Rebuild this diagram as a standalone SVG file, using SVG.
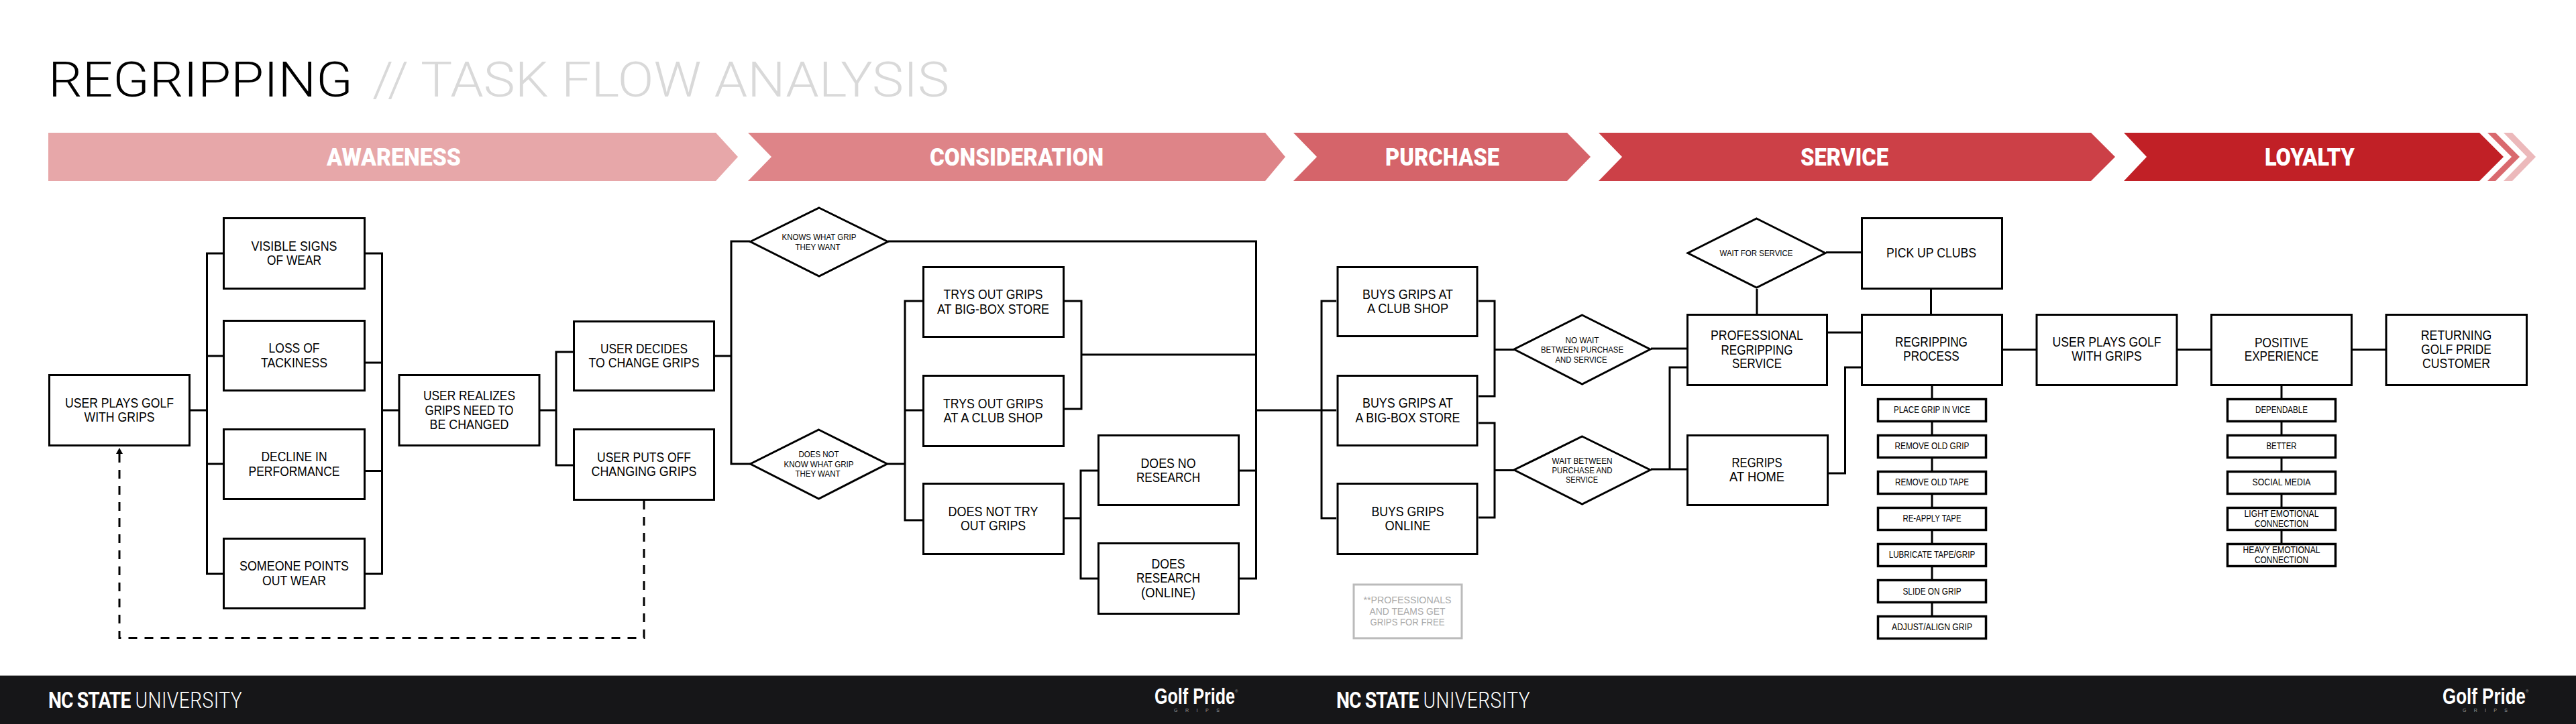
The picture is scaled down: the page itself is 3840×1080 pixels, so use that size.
<svg xmlns="http://www.w3.org/2000/svg" width="3840" height="1080" viewBox="0 0 3840 1080">
<style>
text{font-family:"Liberation Sans",Arial,sans-serif;text-anchor:middle;fill:#000}
.b{font-size:20.5px}
.s{font-size:13.5px}
.m{font-size:14px}
.n{font-size:14.5px;fill:#aaa}
.box rect{fill:#fff;stroke:#000;stroke-width:3}
.box.st rect{stroke-width:3.5}
.box polygon{fill:#fff;stroke:#000;stroke-width:3;stroke-linejoin:miter}
.stage text{font-family:Roboto,"Liberation Sans",sans-serif;font-weight:900;font-size:37.5px;fill:#fff}
.title{font-family:Roboto,"Liberation Sans",sans-serif;font-weight:300;font-size:73px;text-anchor:start}
.foot{font-family:Roboto,"Liberation Sans",sans-serif;font-size:33px;fill:#fff;text-anchor:start}
.foot .hv{font-weight:700;letter-spacing:-1px}
.foot .lt{font-weight:300;letter-spacing:.5px}
.gp{font-weight:700;font-size:33px;fill:#fff;text-anchor:start}
.gs{font-size:7px;fill:#999;text-anchor:start}
.gr{font-size:6px;fill:#aaa;text-anchor:start}
#connectors path{fill:none;stroke:#000;stroke-width:3}
#connectors path.dash{stroke-dasharray:13 11}
</style>
<defs><marker id="arrow" markerUnits="userSpaceOnUse" markerWidth="14" markerHeight="10" refX="1" refY="5" orient="auto"><path d="M0 0L9 5L0 10Z" fill="#000"/></marker></defs>
<rect width="3840" height="1080" fill="#fff"/>
<g id="title">
<text class="title" x="72" y="144" textLength="454" lengthAdjust="spacingAndGlyphs">REGRIPPING</text>
<text class="title" x="555" y="144" style="fill:#d9d9d9" textLength="860" lengthAdjust="spacingAndGlyphs">// TASK FLOW ANALYSIS</text>
</g>
<g id="stages" class="stage">
<polygon fill="#ecb9bb" points="3732,198 3745,198 3780,234 3745,270 3732,270 3767,234"/>
<polygon fill="#d9696e" points="3708,198 3720,198 3756,234 3720,270 3708,270 3744,234"/>
<g id="stage-awareness"><polygon fill="#e7a7a9" points="72,198 1067,198 1100,234 1067,270 72,270"/><text x="587" y="247" textLength="200" lengthAdjust="spacingAndGlyphs">AWARENESS</text></g>
<g id="stage-consideration"><polygon fill="#de8488" points="1115,198 1886,198 1916,234 1886,270 1115,270 1150,234"/><text x="1515.5" y="247" textLength="259" lengthAdjust="spacingAndGlyphs">CONSIDERATION</text></g>
<g id="stage-purchase"><polygon fill="#d5646a" points="1928,198 2336,198 2371,234 2336,270 1928,270 1963,234"/><text x="2150" y="247" textLength="170" lengthAdjust="spacingAndGlyphs">PURCHASE</text></g>
<g id="stage-service"><polygon fill="#cc4047" points="2383,198 3117,198 3153,234 3117,270 2383,270 2418,234"/><text x="2749.5" y="247" textLength="131" lengthAdjust="spacingAndGlyphs">SERVICE</text></g>
<g id="stage-loyalty"><polygon fill="#c12026" points="3166,198 3696,198 3732,234 3696,270 3166,270 3200,234"/><text x="3443" y="247" textLength="134" lengthAdjust="spacingAndGlyphs">LOYALTY</text></g>
</g>
<g id="connectors">
<path d="M284 612H308.5M332 378H308.5V856H332M308.5 531H332M308.5 692H332"/>
<path d="M545 378H569.5V856H545M545 541H569.5M545 702.500H569.5M569.500 612H594"/>
<path d="M805 612H829M854 525H829V694H854"/>
<path d="M1066 531H1090M1118 360H1090V692H1119"/>
<path d="M1324 360H1872.500V863H1848M1848 702H1872.500M1612 529H1872.500M1872.500 612H1992"/>
<path d="M1323 692H1349M1375 449H1349V776H1375M1349 612H1375"/>
<path d="M1587 449H1612V610H1587"/>
<path d="M1587 773H1611M1636 702H1611V863H1636"/>
<path d="M1992 449H1970V773H1992"/>
<path d="M2204 449H2228V591H2204M2228 521.500H2257"/>
<path d="M2204 631H2228V772H2204M2228 701.500H2257"/>
<path d="M2461 520H2514M2461 700H2514M2514 548H2489V700"/>
<path d="M2722 376.500H2774M2619 431V468M2878.500 432V468M2725 496H2774"/>
<path d="M2725 706H2750.500V548H2774"/>
<path d="M2986 521.500H3035M3246 521.500H3295M3507 521.500H3556"/>
<path d="M2880 576V918"/>
<path d="M3401 576V810"/>
<path class="dash" marker-end="url(#arrow)" d="M960 747V951.500H178V676"/>
</g>
<g id="n-plays1" class="box"><rect x="73.500" y="559.500" width="209" height="105"/><text class="b" x="178" y="608" textLength="162" lengthAdjust="spacingAndGlyphs">USER PLAYS GOLF</text><text class="b" x="178" y="629" textLength="105" lengthAdjust="spacingAndGlyphs">WITH GRIPS</text></g>
<g id="n-visible" class="box"><rect x="333.500" y="325.500" width="210" height="105"/><text class="b" x="438.500" y="374" textLength="128" lengthAdjust="spacingAndGlyphs">VISIBLE SIGNS</text><text class="b" x="438.500" y="395" textLength="81" lengthAdjust="spacingAndGlyphs">OF WEAR</text></g>
<g id="n-loss" class="box"><rect x="333.500" y="478.500" width="210" height="104"/><text class="b" x="438.500" y="526" textLength="76" lengthAdjust="spacingAndGlyphs">LOSS OF</text><text class="b" x="438.500" y="548" textLength="99" lengthAdjust="spacingAndGlyphs">TACKINESS</text></g>
<g id="n-decline" class="box"><rect x="333.500" y="640.500" width="210" height="104"/><text class="b" x="438.500" y="688" textLength="98" lengthAdjust="spacingAndGlyphs">DECLINE IN</text><text class="b" x="438.500" y="710" textLength="136" lengthAdjust="spacingAndGlyphs">PERFORMANCE</text></g>
<g id="n-someone" class="box"><rect x="333.500" y="803.500" width="210" height="104"/><text class="b" x="438.500" y="851" textLength="163" lengthAdjust="spacingAndGlyphs">SOMEONE POINTS</text><text class="b" x="438.500" y="873" textLength="95" lengthAdjust="spacingAndGlyphs">OUT WEAR</text></g>
<g id="n-realizes" class="box"><rect x="595" y="559.500" width="209" height="105"/><text class="b" x="699.500" y="597" textLength="137" lengthAdjust="spacingAndGlyphs">USER REALIZES</text><text class="b" x="699.500" y="619" textLength="132" lengthAdjust="spacingAndGlyphs">GRIPS NEED TO</text><text class="b" x="699.500" y="640" textLength="118" lengthAdjust="spacingAndGlyphs">BE CHANGED</text></g>
<g id="n-decides" class="box"><rect x="855.500" y="479.500" width="209" height="103"/><text class="b" x="960" y="527" textLength="130" lengthAdjust="spacingAndGlyphs">USER DECIDES</text><text class="b" x="960" y="548" textLength="165" lengthAdjust="spacingAndGlyphs">TO CHANGE GRIPS</text></g>
<g id="n-putsoff" class="box"><rect x="855.500" y="640.500" width="209" height="105"/><text class="b" x="960" y="689" textLength="140" lengthAdjust="spacingAndGlyphs">USER PUTS OFF</text><text class="b" x="960" y="710" textLength="157" lengthAdjust="spacingAndGlyphs">CHANGING GRIPS</text></g>
<g id="n-knows" class="box"><polygon points="1221,310 1323.500,360.500 1221,412 1118.500,360.500"/><text class="s" x="1221" y="358" textLength="111" lengthAdjust="spacingAndGlyphs">KNOWS WHAT GRIP</text><text class="s" x="1219" y="373" textLength="67" lengthAdjust="spacingAndGlyphs">THEY WANT</text></g>
<g id="n-notknow" class="box"><polygon points="1220.500,641 1322.500,692 1220.500,744 1118.500,692"/><text class="s" x="1220.500" y="682" textLength="60" lengthAdjust="spacingAndGlyphs">DOES NOT</text><text class="s" x="1220.500" y="697" textLength="104" lengthAdjust="spacingAndGlyphs">KNOW WHAT GRIP</text><text class="s" x="1219" y="711" textLength="67" lengthAdjust="spacingAndGlyphs">THEY WANT</text></g>
<g id="n-trybig" class="box"><rect x="1376.500" y="398.500" width="209" height="104"/><text class="b" x="1480.500" y="446" textLength="148" lengthAdjust="spacingAndGlyphs">TRYS OUT GRIPS</text><text class="b" x="1480.500" y="468" textLength="167" lengthAdjust="spacingAndGlyphs">AT BIG-BOX STORE</text></g>
<g id="n-tryclub" class="box"><rect x="1376.500" y="560.500" width="209" height="105"/><text class="b" x="1480.500" y="609" textLength="149" lengthAdjust="spacingAndGlyphs">TRYS OUT GRIPS</text><text class="b" x="1480.500" y="630" textLength="148" lengthAdjust="spacingAndGlyphs">AT A CLUB SHOP</text></g>
<g id="n-notry" class="box"><rect x="1376.500" y="721.500" width="209" height="105"/><text class="b" x="1480.500" y="770" textLength="134" lengthAdjust="spacingAndGlyphs">DOES NOT TRY</text><text class="b" x="1480.500" y="791" textLength="97" lengthAdjust="spacingAndGlyphs">OUT GRIPS</text></g>
<g id="n-nores" class="box"><rect x="1637.500" y="649.500" width="209" height="104"/><text class="b" x="1741.500" y="698" textLength="82" lengthAdjust="spacingAndGlyphs">DOES NO</text><text class="b" x="1741.500" y="719" textLength="95" lengthAdjust="spacingAndGlyphs">RESEARCH</text></g>
<g id="n-res" class="box"><rect x="1637.500" y="810.500" width="209" height="105"/><text class="b" x="1741.500" y="848" textLength="50" lengthAdjust="spacingAndGlyphs">DOES</text><text class="b" x="1741.500" y="869" textLength="95" lengthAdjust="spacingAndGlyphs">RESEARCH</text><text class="b" x="1741.500" y="891" textLength="81" lengthAdjust="spacingAndGlyphs">(ONLINE)</text></g>
<g id="n-buyclub" class="box"><rect x="1994" y="398.500" width="208" height="103"/><text class="b" x="2098.500" y="446" textLength="135" lengthAdjust="spacingAndGlyphs">BUYS GRIPS AT</text><text class="b" x="2098.500" y="467" textLength="121" lengthAdjust="spacingAndGlyphs">A CLUB SHOP</text></g>
<g id="n-buybig" class="box"><rect x="1994" y="560.500" width="208" height="104"/><text class="b" x="2098.500" y="608" textLength="135" lengthAdjust="spacingAndGlyphs">BUYS GRIPS AT</text><text class="b" x="2098.500" y="630" textLength="156" lengthAdjust="spacingAndGlyphs">A BIG-BOX STORE</text></g>
<g id="n-buyonline" class="box"><rect x="1994" y="721.500" width="208" height="105"/><text class="b" x="2098.500" y="770" textLength="108" lengthAdjust="spacingAndGlyphs">BUYS GRIPS</text><text class="b" x="2098.500" y="791" textLength="68" lengthAdjust="spacingAndGlyphs">ONLINE</text></g>
<g id="n-note"><rect x="2018" y="872" width="161" height="80" fill="#fff" stroke="#bbb" stroke-width="3"/><text class="n" x="2098" y="900" textLength="131" lengthAdjust="spacingAndGlyphs">**PROFESSIONALS</text><text class="n" x="2098" y="917" textLength="113" lengthAdjust="spacingAndGlyphs">AND TEAMS GET</text><text class="n" x="2098" y="933" textLength="111" lengthAdjust="spacingAndGlyphs">GRIPS FOR FREE</text></g>
<g id="n-nowait" class="box"><polygon points="2358.500,470 2460,521 2358.500,573 2257,521"/><text class="s" x="2358.500" y="512" textLength="50" lengthAdjust="spacingAndGlyphs">NO WAIT</text><text class="s" x="2358.500" y="526" textLength="123" lengthAdjust="spacingAndGlyphs">BETWEEN PURCHASE</text><text class="s" x="2357" y="541" textLength="77" lengthAdjust="spacingAndGlyphs">AND SERVICE</text></g>
<g id="n-waitbetween" class="box"><polygon points="2358.500,651 2460,701 2358.500,752 2257,701"/><text class="s" x="2358.500" y="692" textLength="90" lengthAdjust="spacingAndGlyphs">WAIT BETWEEN</text><text class="s" x="2358.500" y="706" textLength="90" lengthAdjust="spacingAndGlyphs">PURCHASE AND</text><text class="s" x="2358" y="720" textLength="48" lengthAdjust="spacingAndGlyphs">SERVICE</text></g>
<g id="n-waitservice" class="box"><polygon points="2618.500,326 2721,377.500 2618.500,429 2516,377.500"/><text class="s" x="2618" y="382" textLength="109" lengthAdjust="spacingAndGlyphs">WAIT FOR SERVICE</text></g>
<g id="n-pro" class="box"><rect x="2515.500" y="469.500" width="208" height="105"/><text class="b" x="2619" y="507" textLength="138" lengthAdjust="spacingAndGlyphs">PROFESSIONAL</text><text class="b" x="2619" y="529" textLength="107" lengthAdjust="spacingAndGlyphs">REGRIPPING</text><text class="b" x="2619" y="549" textLength="74" lengthAdjust="spacingAndGlyphs">SERVICE</text></g>
<g id="n-home" class="box"><rect x="2515.500" y="649.500" width="209" height="104"/><text class="b" x="2619" y="697" textLength="75" lengthAdjust="spacingAndGlyphs">REGRIPS</text><text class="b" x="2619" y="718" textLength="82" lengthAdjust="spacingAndGlyphs">AT HOME</text></g>
<g id="n-pickup" class="box"><rect x="2775.500" y="325.500" width="209" height="105"/><text class="b" x="2879" y="384" textLength="134" lengthAdjust="spacingAndGlyphs">PICK UP CLUBS</text></g>
<g id="n-process" class="box"><rect x="2775.500" y="469.500" width="209" height="105"/><text class="b" x="2879" y="517" textLength="108" lengthAdjust="spacingAndGlyphs">REGRIPPING</text><text class="b" x="2879" y="538" textLength="83.500" lengthAdjust="spacingAndGlyphs">PROCESS</text></g>
<g id="s-1" class="box st"><rect x="2799.500" y="595.500" width="161" height="33"/><text class="m" x="2880" y="616" textLength="114" lengthAdjust="spacingAndGlyphs">PLACE GRIP IN VICE</text></g>
<g id="s-2" class="box st"><rect x="2799.500" y="649.500" width="161" height="33"/><text class="m" x="2880" y="670" textLength="111" lengthAdjust="spacingAndGlyphs">REMOVE OLD GRIP</text></g>
<g id="s-3" class="box st"><rect x="2799.500" y="703.500" width="161" height="33"/><text class="m" x="2880" y="724" textLength="110" lengthAdjust="spacingAndGlyphs">REMOVE OLD TAPE</text></g>
<g id="s-4" class="box st"><rect x="2799.500" y="757.500" width="161" height="33"/><text class="m" x="2880" y="778" textLength="87" lengthAdjust="spacingAndGlyphs">RE-APPLY TAPE</text></g>
<g id="s-5" class="box st"><rect x="2799.500" y="811.500" width="161" height="33"/><text class="m" x="2880" y="832" textLength="128.500" lengthAdjust="spacingAndGlyphs">LUBRICATE TAPE/GRIP</text></g>
<g id="s-6" class="box st"><rect x="2799.500" y="865.500" width="161" height="33"/><text class="m" x="2880" y="887" textLength="87" lengthAdjust="spacingAndGlyphs">SLIDE ON GRIP</text></g>
<g id="s-7" class="box st"><rect x="2799.500" y="919.500" width="161" height="33"/><text class="m" x="2880" y="940" textLength="120" lengthAdjust="spacingAndGlyphs">ADJUST/ALIGN GRIP</text></g>
<g id="n-plays2" class="box"><rect x="3036" y="469.500" width="209" height="105"/><text class="b" x="3140.500" y="517" textLength="162" lengthAdjust="spacingAndGlyphs">USER PLAYS GOLF</text><text class="b" x="3140.500" y="538" textLength="104.500" lengthAdjust="spacingAndGlyphs">WITH GRIPS</text></g>
<g id="n-positive" class="box"><rect x="3296.500" y="469.500" width="209" height="105"/><text class="b" x="3401" y="518" textLength="80" lengthAdjust="spacingAndGlyphs">POSITIVE</text><text class="b" x="3401" y="538" textLength="110.500" lengthAdjust="spacingAndGlyphs">EXPERIENCE</text></g>
<g id="n-returning" class="box"><rect x="3557" y="469.500" width="209.500" height="105"/><text class="b" x="3661.500" y="507" textLength="105.500" lengthAdjust="spacingAndGlyphs">RETURNING</text><text class="b" x="3661.500" y="528" textLength="104.500" lengthAdjust="spacingAndGlyphs">GOLF PRIDE</text><text class="b" x="3661.500" y="549" textLength="101" lengthAdjust="spacingAndGlyphs">CUSTOMER</text></g>
<g id="e-1" class="box st"><rect x="3320.500" y="595.500" width="161" height="33"/><text class="m" x="3401" y="616" textLength="78" lengthAdjust="spacingAndGlyphs">DEPENDABLE</text></g>
<g id="e-2" class="box st"><rect x="3320.500" y="649.500" width="161" height="33"/><text class="m" x="3401" y="670" textLength="45" lengthAdjust="spacingAndGlyphs">BETTER</text></g>
<g id="e-3" class="box st"><rect x="3320.500" y="703.500" width="161" height="33"/><text class="m" x="3401" y="724" textLength="87" lengthAdjust="spacingAndGlyphs">SOCIAL MEDIA</text></g>
<g id="e-4" class="box st"><rect x="3320.500" y="757.500" width="161" height="33"/><text class="m" x="3401" y="771" textLength="111" lengthAdjust="spacingAndGlyphs">LIGHT EMOTIONAL</text><text class="m" x="3401" y="786" textLength="80" lengthAdjust="spacingAndGlyphs">CONNECTION</text></g>
<g id="e-5" class="box st"><rect x="3320.500" y="811.500" width="161" height="33"/><text class="m" x="3401" y="825" textLength="115" lengthAdjust="spacingAndGlyphs">HEAVY EMOTIONAL</text><text class="m" x="3401" y="840" textLength="80" lengthAdjust="spacingAndGlyphs">CONNECTION</text></g>
<g id="footer">
<rect y="1007" width="3840" height="1" fill="#bdbdbd"/>
<rect y="1008" width="3840" height="72" fill="#161618"/>
<text class="foot" x="72" y="1056" textLength="289" lengthAdjust="spacingAndGlyphs"><tspan class="hv">NC STATE</tspan> <tspan class="lt">UNIVERSITY</tspan></text>
<text class="foot" x="1992" y="1056" textLength="289" lengthAdjust="spacingAndGlyphs"><tspan class="hv">NC STATE</tspan> <tspan class="lt">UNIVERSITY</tspan></text>
<text class="gp" x="1721" y="1050" textLength="120" lengthAdjust="spacingAndGlyphs">Golf Pride</text><text class="gr" x="1841" y="1033">®</text>
<text class="gs" x="1750" y="1062" textLength="68">GRIPS</text>
<text class="gp" x="3641" y="1050" textLength="124" lengthAdjust="spacingAndGlyphs">Golf Pride</text><text class="gr" x="3765" y="1033">®</text>
<text class="gs" x="3671" y="1062" textLength="67">GRIPS</text>
</g>
</svg>
